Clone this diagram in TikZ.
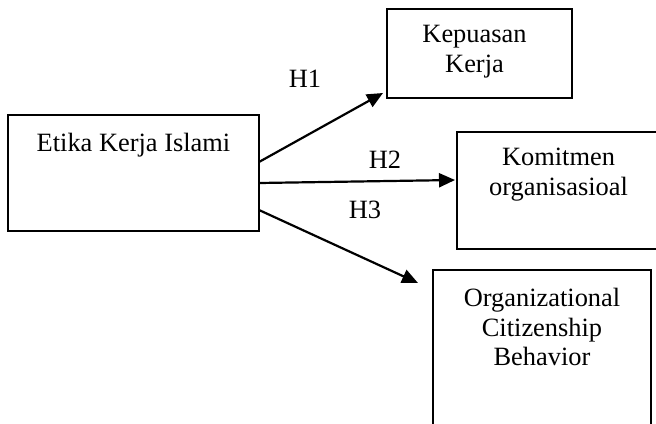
\documentclass[tikz,border=0pt]{standalone}
\usepackage{fontspec}
\setmainfont{Liberation Serif}
\usetikzlibrary{arrows.meta}
\usetikzlibrary{positioning}

\begin{document}
\begin{tikzpicture}[x=0.5pt,y=-0.5pt]
\tikzstyle{var} = [draw, line width=0.75pt, inner sep=0pt, outer sep=0pt]
\tikzstyle{txt} = [font=\fontsize{13.2}{14.8}\selectfont, align=center, inner sep=0pt]
\tikzstyle{hyp} = [line width=1.1pt, -{Triangle[length=8pt,width=7pt]}]
\useasboundingbox (0,0) rectangle (656,423);

\node[var, minimum width=125.5pt, minimum height=58pt](EKI) at (133.5, 173){};
\node[txt, anchor=north](EKIt) at ([yshift=-9pt]EKI.north){Etika Kerja Islami};

\node[var, minimum width=92.5pt, minimum height=44.5pt](KK) at (479.5, 53.5){};
\node[txt, anchor=north](KKt) at ([xshift=-2.5pt,yshift=-8pt]KK.north){Kepuasan\\Kerja};

\node[var, minimum width=101.5pt, minimum height=58.5pt](KO) at (558.5, 190.5){};
\node[txt, anchor=north](KOt) at ([yshift=-8pt]KO.north){Komitmen\\organisasioal};

\node[var, minimum width=109pt, minimum height=85pt](OCB) at (542, 355){};
\node[txt, anchor=north](OCBt) at ([yshift=-9pt]OCB.north){Organizational\\Citizenship\\Behavior};

\draw[hyp] ([yshift=5.5pt]EKI.east) -- ([xshift=-2pt,yshift=2.5pt]KK.south west);
\draw[hyp] ([yshift=-5pt]EKI.east) -- ([xshift=-1pt,yshift=5.25pt]KO.west);
\draw[hyp] ([yshift=-18.5pt]EKI.east) -- ([xshift=-7.5pt,yshift=-6.5pt]OCB.north west);

\node[txt, anchor=base](H1) at (305, 87){H1};
\node[txt, anchor=base](H2) at (385, 168){H2};
\node[txt, anchor=base](H3) at (365, 218){H3};

\end{tikzpicture}
\end{document}
